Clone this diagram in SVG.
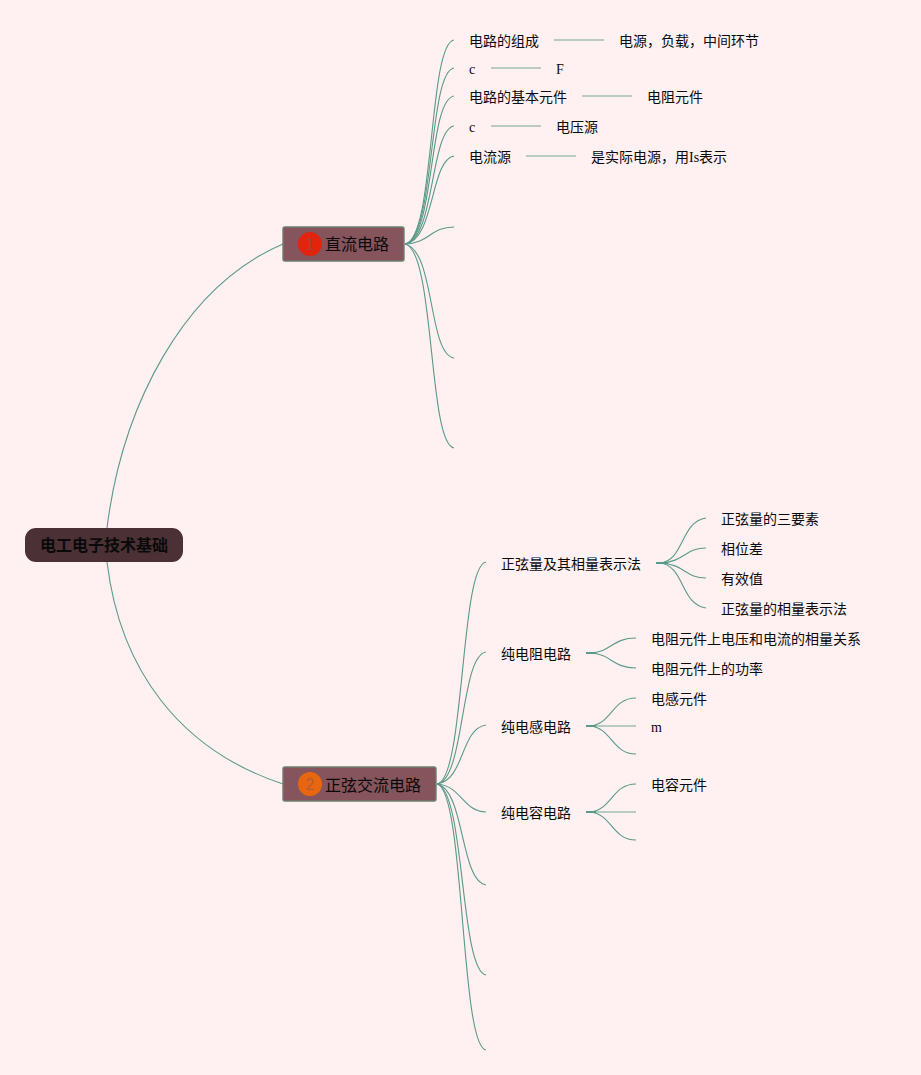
<svg xmlns="http://www.w3.org/2000/svg" width="921" height="1075" viewBox="0 0 921 1075">
<style>
text{font-family:"Liberation Serif","Noto Sans CJK SC",serif;font-size:14px;fill:#0a0a0a}
.c{fill:none;stroke:#5a9a88;stroke-width:1.1}
.s{fill:none;stroke:#a3bdb1;stroke-width:1.6}
.e{fill:none;stroke:#5a9a88;stroke-width:2}
.t{font-family:"Noto Sans CJK SC","Liberation Sans",sans-serif;font-size:16px}
.b{fill:#85545c;stroke:#6f7d70;stroke-width:1.4}
.n{font-family:"Liberation Sans",sans-serif;font-size:16px;text-anchor:middle;fill:#85545c;fill-opacity:.55}
</style>
<rect width="921" height="1075" fill="#fff0f1"/>
<g id="connectors">
<path class="c" d="M107 528C122 408 182 287 283 244"/>
<path class="c" d="M107 562C120 670 180 750 283 784"/>
<path class="c" d="M405 244C435 240 428 44 454 40"/>
<path class="c" d="M405 244C435 240 428 72 454 68"/>
<path class="c" d="M405 244C435 240 428 100 454 96"/>
<path class="c" d="M405 244C435 240 430 130 454 126"/>
<path class="c" d="M405 244C435 240 430 160 454 156"/>
<path class="c" d="M405 244C430 243 430 227 454 227"/>
<path class="c" d="M405 244C435 250 428 354 454 358"/>
<path class="c" d="M405 244C435 250 428 444 454 448"/>
<path class="c" d="M437 784C465 780 460 566 486 562"/>
<path class="c" d="M437 784C465 780 460 656 486 652"/>
<path class="c" d="M437 784C465 780 460 729 486 725"/>
<path class="c" d="M437 784C462 786 462 811 486 812"/>
<path class="c" d="M437 784C465 790 460 881 486 885"/>
<path class="c" d="M437 784C465 790 460 971 486 975"/>
<path class="c" d="M437 784C465 790 460 1046 486 1050"/>
<path class="s" d="M554 40H604M491 68H541M582 96H632M491 126H541M526 156H576"/>
<path class="s" d="M596 726H636M596 812H636"/>
<path class="e" d="M656 563H668M586 653H596M586 726H596M586 812H596"/>
<path class="c" d="M660 563C685 560 680 522 706 518"/>
<path class="c" d="M660 563C685 562 685 548 706 548"/>
<path class="c" d="M660 563C685 564 685 578 706 578"/>
<path class="c" d="M660 563C685 566 680 604 706 608"/>
<path class="c" d="M590 653C612 652 612 638 636 638"/>
<path class="c" d="M590 653C612 654 612 668 636 668"/>
<path class="c" d="M590 726C612 724 612 698 636 698"/>
<path class="c" d="M590 726C612 728 612 754 636 754"/>
<path class="c" d="M590 812C612 810 612 784 636 784"/>
<path class="c" d="M590 812C612 814 612 840 636 840"/>
</g>
<g id="root"><rect x="25" y="528" width="158" height="34" rx="11" fill="#4b3035"/><text x="40" y="551" style="font-family:'Noto Sans CJK SC',sans-serif;font-size:16px;font-weight:700">电工电子技术基础</text></g>
<g id="b1"><rect class="b" x="283" y="227" width="121" height="34" rx="2"/><circle cx="310" cy="244" r="12" fill="#e3240c"/><text class="n" x="310" y="250">1</text><text class="t" x="325" y="250">直流电路</text></g>
<g id="b2"><rect class="b" x="283" y="767" width="153" height="34" rx="2"/><circle cx="310" cy="784" r="12" fill="#e8660f"/><text class="n" x="310" y="790">2</text><text class="t" x="325" y="791">正弦交流电路</text></g>
<g id="n1"><text x="469" y="46">电路的组成</text></g>
<g id="n1a"><text x="619" y="46">电源，负载，中间环节</text></g>
<g id="n2"><text x="469" y="74">c</text></g>
<g id="n2a"><text x="556" y="74">F</text></g>
<g id="n3"><text x="469" y="102">电路的基本元件</text></g>
<g id="n3a"><text x="647" y="102">电阻元件</text></g>
<g id="n4"><text x="469" y="132">c</text></g>
<g id="n4a"><text x="556" y="132">电压源</text></g>
<g id="n5"><text x="469" y="162">电流源</text></g>
<g id="n5a"><text x="591" y="162">是实际电源，用Is表示</text></g>
<g id="m1"><text x="501" y="569">正弦量及其相量表示法</text></g>
<g id="m1a"><text x="721" y="524">正弦量的三要素</text></g>
<g id="m1b"><text x="721" y="554">相位差</text></g>
<g id="m1c"><text x="721" y="584">有效值</text></g>
<g id="m1d"><text x="721" y="614">正弦量的相量表示法</text></g>
<g id="m2"><text x="501" y="659">纯电阻电路</text></g>
<g id="m2a"><text x="651" y="644">电阻元件上电压和电流的相量关系</text></g>
<g id="m2b"><text x="651" y="674">电阻元件上的功率</text></g>
<g id="m3"><text x="501" y="732">纯电感电路</text></g>
<g id="m3a"><text x="651" y="704">电感元件</text></g>
<g id="m3b"><text x="651" y="732">m</text></g>
<g id="m4"><text x="501" y="818">纯电容电路</text></g>
<g id="m4a"><text x="651" y="790">电容元件</text></g>
</svg>
